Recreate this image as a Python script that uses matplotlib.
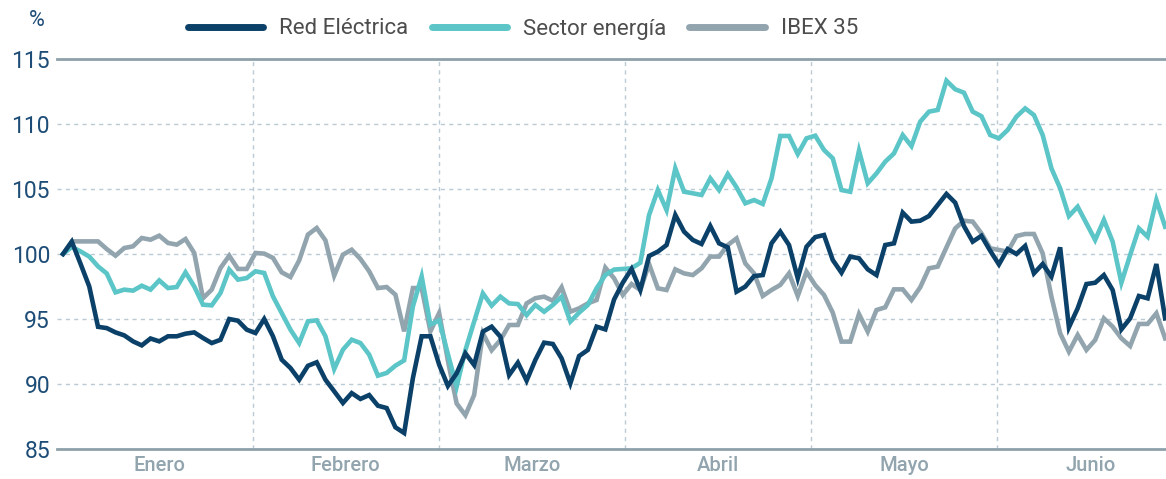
import matplotlib
matplotlib.use("Agg")
import matplotlib.pyplot as plt
from matplotlib.lines import Line2D

# ---------------- data ----------------
months = ["Enero", "Febrero", "Marzo", "Abril", "Mayo", "Junio"]
series_names = ["Red Eléctrica", "Sector energía", "IBEX 35"]
y_ticks = [85, 90, 95, 100, 105, 110, 115]

red_electrica = [
    100.0, 100.95, 99.25, 97.5, 94.4, 94.3, 93.97, 93.74, 93.28, 92.97,
    93.5, 93.28, 93.67, 93.67, 93.87, 93.97, 93.54, 93.15, 93.4, 95.0,
    94.87, 94.18, 93.92, 95.0, 93.67, 91.87, 91.23, 90.33, 91.4, 91.67,
    90.33, 89.44, 88.54, 89.3, 88.85, 89.15, 88.33, 88.15, 86.67, 86.23,
    90.46, 93.67, 93.67, 91.49, 89.85, 90.82, 92.36, 91.46, 94.03, 94.41,
    93.64, 90.69, 91.64, 90.26, 91.85, 93.18, 93.08, 91.97, 90.05, 92.15,
    92.62, 94.41, 94.2, 96.5, 97.8, 98.85, 97.23, 99.85, 100.18, 100.69,
    103.0, 101.72, 101.08, 100.77, 102.15, 100.82, 100.51, 97.1, 97.49, 98.3,
    98.38, 100.82, 101.72, 100.69, 98.13, 100.56, 101.3, 101.46, 99.54, 98.56,
    99.8, 99.67, 98.82, 98.38, 100.69, 100.82, 103.18, 102.49, 102.56, 102.92,
    103.77, 104.62, 103.95, 102.15, 100.95, 101.4, 100.25, 99.2, 100.38, 100.0,
    100.62, 98.51, 99.23, 98.26, 100.51, 94.36, 95.82, 97.69, 97.79, 98.38,
    97.23, 94.2, 95.05, 96.77, 96.59, 99.23, 95.05,
]

sector_energia = [
    100.0, 100.54, 100.2, 99.8, 99.05, 98.5, 97.05, 97.26, 97.18, 97.56,
    97.26, 97.97, 97.38, 97.46, 98.59, 97.5, 96.1, 96.05, 97.0, 98.8,
    98.03, 98.15, 98.67, 98.54, 96.74, 95.46, 94.18, 93.15, 94.82, 94.9,
    93.67, 91.15, 92.64, 93.41, 93.15, 92.26, 90.64, 90.85, 91.41, 91.82,
    95.97, 98.28, 94.56, 94.9, 92.3, 89.8, 92.6, 94.8, 96.97, 96.03,
    96.72, 96.2, 96.15, 95.3, 96.08, 95.56, 96.08, 96.72, 94.8, 95.49,
    96.08, 97.36, 98.38, 98.8, 98.85, 98.9, 99.33, 103.0, 104.92, 103.38,
    106.59, 104.79, 104.67, 104.54, 105.82, 104.92, 106.15, 105.13, 103.9, 104.15,
    103.85, 105.82, 109.08, 109.08, 107.69, 108.9, 109.1, 108.0, 107.36, 104.92,
    104.79, 107.95, 105.44, 106.2, 107.1, 107.74, 109.15, 108.3, 110.18, 110.95,
    111.08, 113.33, 112.67, 112.41, 110.95, 110.6, 109.15, 108.9, 109.54, 110.56,
    111.2, 110.69, 109.15, 106.59, 105.05, 102.92, 103.64, 102.36, 101.08, 102.62,
    100.95, 97.79, 99.92, 101.97, 101.33, 104.15, 102.1,
]

ibex35 = [
    100.0, 100.97, 100.97, 100.97, 100.97, 100.38, 99.87, 100.46, 100.59, 101.23,
    101.1, 101.41, 100.85, 100.72, 101.15, 100.08, 96.6, 97.26, 98.92, 99.87,
    98.85, 98.85, 100.08, 100.03, 99.7, 98.59, 98.23, 99.51, 101.49, 102.0,
    101.05, 98.33, 99.95, 100.33, 99.62, 98.67, 97.38, 97.46, 96.87, 94.05,
    97.38, 97.38, 94.05, 95.46, 91.8, 88.5, 87.6, 89.15, 93.9, 92.6,
    93.38, 94.54, 94.54, 96.2, 96.6, 96.72, 96.4, 97.44, 95.56, 95.82,
    96.2, 96.46, 98.95, 98.13, 96.85, 97.69, 97.23, 99.23, 97.36, 97.23,
    98.82, 98.51, 98.38, 98.9, 99.8, 99.8, 100.69, 101.2, 99.28, 98.51,
    96.77, 97.23, 97.62, 98.51, 96.77, 98.64, 97.6, 96.85, 95.49, 93.26,
    93.26, 95.38, 94.03, 95.69, 95.9, 97.28, 97.28, 96.46, 97.44, 98.9,
    99.03, 100.51, 101.97, 102.56, 102.49, 101.59, 100.44, 100.31, 100.18, 101.38,
    101.54, 101.54, 100.05, 96.72, 93.9, 92.49, 93.77, 92.62, 93.38, 95.05,
    94.41, 93.51, 92.92, 94.62, 94.62, 95.44, 93.51,
]

# ---------------- style ----------------
C_RED = "#0b4169"
C_TEAL = "#5bc5c7"
C_GRAY = "#92a5af"
C_GRID = "#bccbd3"
C_AXIS = "#8ea0aa"
C_TICK = "#1d4d77"
C_LEG = "#4d4d4d"

plt.rcParams['font.family'] = ['Roboto', 'DejaVu Sans']

W, H = 1166, 479
fig = plt.figure(figsize=(W / 100, H / 100), dpi=100)
ax = fig.add_axes([57 / W, 1 - 449 / H, 1 - 57 / W, (449 - 59) / H])

x = list(range(len(red_electrica)))
lw = 3.3
l_gray, = ax.plot(x, ibex35, color=C_GRAY, lw=lw, solid_joinstyle='miter', zorder=3)
l_teal, = ax.plot(x, sector_energia, color=C_TEAL, lw=lw, solid_joinstyle='miter', zorder=4)
l_red, = ax.plot(x, red_electrica, color=C_RED, lw=lw, solid_joinstyle='miter', zorder=5)

ax.set_ylim(85, 115)
ax.set_xlim(-0.69, 126.1)

# horizontal grid (dashed) for inner ticks
for yv in y_ticks[1:-1]:
    ax.axhline(yv, color=C_GRID, lw=1, ls=(0, (3, 3)), zorder=1)

# month separators and labels
first_edge, month_step = 21.67, 21.28
for k in range(len(months) - 1):
    ax.axvline(first_edge + k * month_step, color=C_GRID, lw=1, ls=(0, (3, 3)), zorder=1)
month_centers = [first_edge - month_step / 2 + k * month_step for k in range(len(months))]
ax.set_xticks(month_centers)
ax.set_xticklabels(months, color=C_GRAY, fontsize=14.5, fontweight='medium')
ax.tick_params(axis='x', length=0, pad=5)

ax.set_yticks(y_ticks)
ax.set_yticklabels([str(v) for v in y_ticks], color=C_TICK, fontsize=16.5)
ax.tick_params(axis='y', length=0, pad=5)

for s in ['left', 'right']:
    ax.spines[s].set_visible(False)
for s in ['top', 'bottom']:
    ax.spines[s].set_color(C_AXIS)
    ax.spines[s].set_linewidth(2)

fig.text(37 / W, 1 - 21 / H, "%", color=C_TICK, fontsize=15.5, ha='center', va='center')

handles = [Line2D([], [], color=c, lw=5, solid_capstyle='round')
           for c in (C_RED, C_TEAL, C_GRAY)]
leg = fig.legend(handles, series_names, loc='center', bbox_to_anchor=(523 / W, 1 - 29 / H),
                 ncol=3, frameon=False, fontsize=16, handlelength=3.4, handletextpad=0.72,
                 columnspacing=1.04, borderpad=0, borderaxespad=0)
for t in leg.get_texts():
    t.set_color(C_LEG)

fig.savefig("out.png", dpi=100)
